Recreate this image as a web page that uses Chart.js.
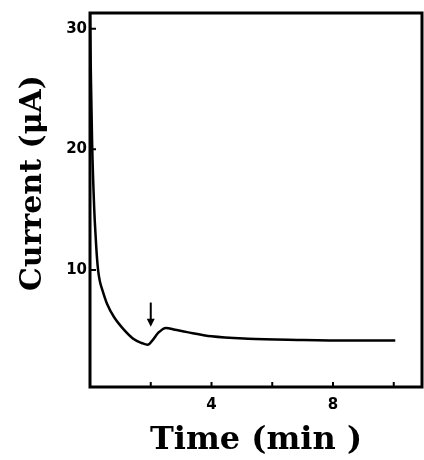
<!DOCTYPE html>
<html lang="en">
<head>
    <meta charset="UTF-8">
    <title>Current vs time</title>
    <script src="https://cdn.jsdelivr.net/npm/chart.js"></script>
    <style>
        body { margin: 0; background: #fff; }
        #wrap { width: 424px; height: 460px; }
    </style>
</head>
<body>
    <div id="wrap"><canvas id="myChart"></canvas></div>
    <script>
        // values (time in min, current in uA)
        const times   = [0, 0.03, 0.07, 0.14, 0.19, 0.23, 0.27, 0.33, 0.4, 0.56, 0.79, 1.1, 1.45, 1.7, 1.9, 2.05, 2.25, 2.5, 2.8, 3.2, 4.0, 5.2, 6.9, 8.5, 10.05];
        const current = [31.3, 26, 20.5, 15, 12.6, 11.0, 9.9, 9.0, 8.4, 7.2, 6.1, 5.1, 4.25, 3.95, 3.8, 4.15, 4.8, 5.2, 5.05, 4.85, 4.5, 4.3, 4.2, 4.15, 4.15];
        const xTicks = [2, 4, 6, 8, 10];
        const xLabels = [4, 8];
        const yTicks = [10, 20, 30];
        const yTitle = 'Current (μA)';
        // arrow marking the injection: time, top and tip current
        const arrowTime = 2.0;
        const arrowFrom = 7.3;
        const arrowTo = 5.3;

        const points = times.map((t, i) => ({x: t, y: current[i]}));

        const framePlugin = {
            id: 'frame',
            afterDraw(chart) {
                const ctx = chart.ctx;
                const a = chart.chartArea;
                const xs = chart.scales.x, ys = chart.scales.y;
                ctx.save();
                ctx.strokeStyle = '#000';
                ctx.lineWidth = 3;
                ctx.strokeRect(a.left, a.top, a.right - a.left, a.bottom - a.top);

                // inward ticks
                ctx.lineWidth = 2;
                ctx.beginPath();
                xTicks.forEach(v => {
                    const px = xs.getPixelForValue(v);
                    ctx.moveTo(px, a.bottom);
                    ctx.lineTo(px, a.bottom - 5);
                });
                yTicks.forEach(v => {
                    const py = ys.getPixelForValue(v);
                    ctx.moveTo(a.left, py);
                    ctx.lineTo(a.left + 6, py);
                });
                ctx.stroke();

                // arrow
                const ax = xs.getPixelForValue(arrowTime);
                const y1 = ys.getPixelForValue(arrowFrom);
                const y2 = ys.getPixelForValue(arrowTo);
                ctx.lineWidth = 2;
                ctx.beginPath();
                ctx.moveTo(ax, y1);
                ctx.lineTo(ax, y2 - 6);
                ctx.stroke();
                ctx.fillStyle = '#000';
                ctx.beginPath();
                ctx.moveTo(ax - 4, y2 - 8);
                ctx.lineTo(ax + 4, y2 - 8);
                ctx.lineTo(ax, y2);
                ctx.closePath();
                ctx.fill();

                // y axis title, sits a little above the middle in the original
                ctx.translate(33, a.top + (a.bottom - a.top) / 2 - 17);
                ctx.rotate(-Math.PI / 2);
                ctx.font = 'bold 30px "DejaVu Serif"';
                ctx.textAlign = 'center';
                ctx.textBaseline = 'middle';
                ctx.fillText(yTitle, 0, 0);
                ctx.restore();
            }
        };

        const ctx = document.getElementById('myChart');
        new Chart(ctx, {
            type: 'line',
            data: {
                datasets: [{
                    data: points,
                    borderColor: '#000',
                    borderWidth: 2.5,
                    pointRadius: 0,
                    cubicInterpolationMode: 'monotone',
                    fill: false
                }]
            },
            options: {
                responsive: true,
                maintainAspectRatio: false,
                animation: false,
                events: [],
                layout: { padding: { top: 13, right: 2, left: 0, bottom: 0 } },
                plugins: {
                    legend: { display: false },
                    tooltip: { enabled: false }
                },
                scales: {
                    x: {
                        type: 'linear',
                        min: 0,
                        max: 10.93,
                        afterBuildTicks: s => { s.ticks = xTicks.map(v => ({value: v})); },
                        afterFit: s => { s.height = 73; },
                        border: { display: false },
                        grid: { display: false, drawTicks: false },
                        ticks: {
                            color: '#000',
                            padding: 9,
                            maxRotation: 0,
                            autoSkip: false,
                            font: { family: 'DejaVu Sans', weight: 'bold', size: 15 },
                            callback: v => xLabels.includes(v) ? String(v) : ''
                        },
                        title: {
                            display: true,
                            text: 'Time (min )',
                            color: '#000',
                            padding: { top: 0, bottom: 0 },
                            font: { family: 'DejaVu Serif', weight: 'bold', size: 32 }
                        }
                    },
                    y: {
                        min: 0.3,
                        max: 31.3,
                        afterBuildTicks: s => { s.ticks = yTicks.map(v => ({value: v})); },
                        afterFit: s => { s.width = 90; },
                        border: { display: false },
                        grid: { display: false, drawTicks: false },
                        ticks: {
                            color: '#000',
                            padding: 3,
                            font: { family: 'DejaVu Sans', weight: 'bold', size: 15 }
                        },
                        title: { display: false }
                    }
                }
            },
            plugins: [framePlugin]
        });
    </script>
</body>
</html>
